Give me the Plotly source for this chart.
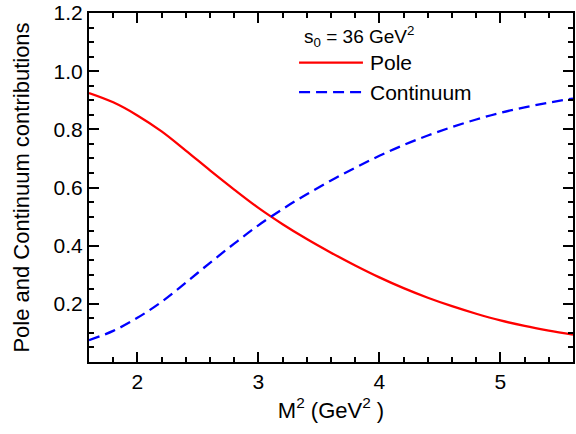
import plotly.graph_objects as go

m2 = [1.6, 1.8, 2.0, 2.2, 2.4, 2.6, 2.8, 3.0, 3.2, 3.4, 3.6, 3.8, 4.0, 4.2, 4.4, 4.6, 4.8, 5.0, 5.2, 5.4, 5.6]
pole = [0.925, 0.893, 0.848, 0.793, 0.727, 0.659, 0.593, 0.530, 0.474, 0.423, 0.376, 0.332, 0.291,
        0.254, 0.221, 0.192, 0.166, 0.143, 0.124, 0.108, 0.094]
continuum = [0.075, 0.107, 0.152, 0.207, 0.273, 0.341, 0.407, 0.470, 0.526, 0.577, 0.624, 0.668, 0.709,
             0.746, 0.779, 0.808, 0.834, 0.857, 0.876, 0.892, 0.906]
xticks = [2, 3, 4, 5]
yticks = [0.2, 0.4, 0.6, 0.8, 1.0, 1.2]
ytick_labels = ["0.2", "0.4", "0.6", "0.8", "1.0", "1.2"]

FONT = "Liberation Sans, Arial, Helvetica, sans-serif"
FS = 21

fig = go.Figure()
fig.add_trace(go.Scatter(x=m2, y=pole, mode="lines", name="Pole",
                         line=dict(color="#ff0000", width=2.3, shape="spline")))
fig.add_trace(go.Scatter(x=m2, y=continuum, mode="lines", name="Continuum",
                         line=dict(color="#0000ff", width=2.3, dash="11px,6px", shape="spline")))

axis_common = dict(showgrid=False, zeroline=False, showline=True, linecolor="black", linewidth=2,
                   ticks="inside", ticklen=10, tickwidth=2, tickcolor="black", mirror="ticks",
                   ticklabeloverflow="allow",
                   tickfont=dict(family=FONT, size=FS, color="black"))

fig.update_xaxes(range=[1.6, 5.6], tickmode="array", tickvals=xticks,
                 minor=dict(tick0=0, dtick=0.2, ticks="inside", ticklen=5, tickwidth=1.5, tickcolor="black"),
                 title=dict(text="M<sup>2</sup> (GeV<sup>2</sup> )", font=dict(family=FONT, size=22, color="black"),
                            standoff=10),
                 **axis_common)
fig.update_yaxes(range=[0, 1.2002], tickmode="array", tickvals=yticks, ticktext=ytick_labels,
                 minor=dict(tick0=0, dtick=0.05, ticks="inside", ticklen=5, tickwidth=1.5, tickcolor="black"),
                 title=dict(text="Pole and Continuum contributions", font=dict(family=FONT, size=22, color="black"),
                            standoff=18),
                 **axis_common)

# manual legend
fig.add_annotation(xref="paper", yref="paper", x=0.440, y=0.932, xanchor="left", yanchor="middle",
                   text="s<sub>0</sub> = 36 GeV<sup>2</sup>", showarrow=False,
                   font=dict(family=FONT, size=19, color="black"))
fig.add_shape(type="line", xref="paper", yref="paper", x0=0.434, x1=0.566, y0=0.858, y1=0.858,
              line=dict(color="#ff0000", width=2.3))
fig.add_annotation(xref="paper", yref="paper", x=0.576, y=0.858, xanchor="left", yanchor="middle",
                   text="Pole", showarrow=False, font=dict(family=FONT, size=FS, color="black"))
fig.add_shape(type="line", xref="paper", yref="paper", x0=0.434, x1=0.566, y0=0.773, y1=0.773,
              line=dict(color="#0000ff", width=2.3, dash="11px,6px"))
fig.add_annotation(xref="paper", yref="paper", x=0.576, y=0.773, xanchor="left", yanchor="middle",
                   text="Continuum", showarrow=False, font=dict(family=FONT, size=FS, color="black"))

fig.update_layout(width=576, height=434, margin=dict(l=89, r=1, t=9, b=72),
                  paper_bgcolor="white", plot_bgcolor="white", showlegend=False,
                  font=dict(family=FONT, color="black"))

fig.write_html("out.html")
